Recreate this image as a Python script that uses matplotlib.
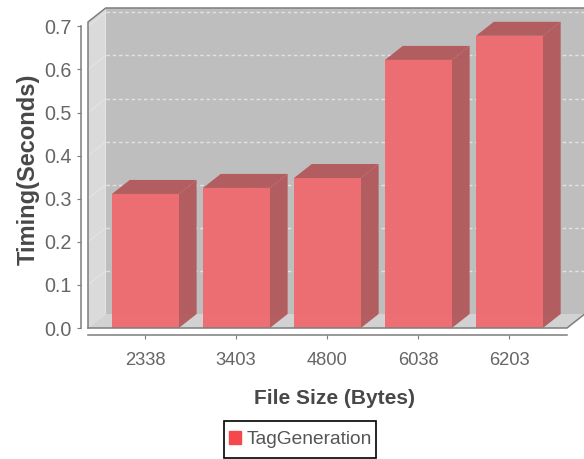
import matplotlib
matplotlib.use("Agg")
import matplotlib.pyplot as plt
from matplotlib.patches import Patch, Polygon, Rectangle

plt.rcParams["font.family"] = ["Liberation Sans", "DejaVu Sans"]

categorias = ["2338", "3403", "4800", "6038", "6203"]
tempos = [0.311, 0.325, 0.348, 0.622, 0.678]
marcas_y = [0.0, 0.1, 0.2, 0.3, 0.4, 0.5, 0.6, 0.7]
serie = "TagGeneration"

LARGURA, ALTURA = 584, 459
largura_barra = 0.735
prof_x = 0.195
prof_y = 0.0325
x_min, x_max = -0.626, 4.637
y_max = 0.71


def poligono(ax, pontos, cor, z, alpha=1.0):
    ax.add_patch(
        Polygon(pontos, closed=True, facecolor=cor, edgecolor="none", zorder=z,
                alpha=alpha, clip_on=False)
    )


fig = plt.figure(figsize=(LARGURA / 100, ALTURA / 100), dpi=100)
ax = fig.add_axes([88 / LARGURA, 1 - 328 / ALTURA, 479 / LARGURA, 306 / ALTURA])
ax.set_xlim(x_min, x_max)
ax.set_ylim(0, y_max)
ax.patch.set_visible(False)

# paredes do grafico 3D
poligono(ax, [(x_min + prof_x, prof_y), (x_max + prof_x, prof_y),
              (x_max + prof_x, y_max + prof_y), (x_min + prof_x, y_max + prof_y)], "#bebebe", 1)
poligono(ax, [(x_min, 0), (x_min + prof_x, prof_y),
              (x_min + prof_x, y_max + prof_y), (x_min, y_max)], "#dadada", 1)
poligono(ax, [(x_min, 0), (x_max, 0), (x_max + prof_x, prof_y), (x_min + prof_x, prof_y)], "#d2d2d2", 1)

for v in marcas_y[1:]:
    ax.plot([x_min + prof_x, x_max + prof_x], [v + prof_y, v + prof_y], color="#e2e2e2",
            lw=1, ls=(0, (2.5, 2)), zorder=2, clip_on=False)
    ax.plot([x_min, x_min + prof_x], [v, v + prof_y], color="#e4e4e4",
            lw=0.8, zorder=2, clip_on=False)

# barras
for i, v in enumerate(tempos):
    esq = i + 0.005 - largura_barra / 2
    dir_ = i + 0.005 + largura_barra / 2
    poligono(ax, [(dir_, 0), (dir_ + prof_x, prof_y), (dir_ + prof_x, v + prof_y), (dir_, v)],
             "#b25a5c", 3, 0.97)
    poligono(ax, [(esq, v), (dir_, v), (dir_ + prof_x, v + prof_y), (esq + prof_x, v + prof_y)],
             "#b25a5c", 3, 0.97)
ax.bar([i + 0.005 for i in range(len(tempos))], tempos, width=largura_barra,
       color="#f06a6e", alpha=0.95, zorder=4)

# contorno
cor_linha = "#7d7d7d"
ax.plot([x_min, x_max, x_max + prof_x], [0, 0, prof_y], color=cor_linha, lw=1.1, zorder=5, clip_on=False)
ax.plot([x_min, x_min, x_min + prof_x, x_max + prof_x], [0, y_max, y_max + prof_y, y_max + prof_y],
        color=cor_linha, lw=1.1, zorder=5, clip_on=False)

for lado in ["top", "right"]:
    ax.spines[lado].set_visible(False)
ax.spines["left"].set_position(("outward", 5))
ax.spines["bottom"].set_position(("outward", 5))
ax.spines["left"].set_bounds(0, 0.7)
ax.spines["left"].set_color(cor_linha)
ax.spines["bottom"].set_color(cor_linha)
ax.spines["left"].set_linewidth(1.1)
ax.spines["bottom"].set_linewidth(1.1)

ax.set_yticks(marcas_y)
ax.set_yticklabels([f"{v:.1f}" for v in marcas_y])
ax.set_xticks(range(len(categorias)))
ax.set_xticklabels(categorias)
ax.tick_params(axis="y", labelsize=14.2, labelcolor="#666666", color=cor_linha, length=3, pad=4)
ax.tick_params(axis="x", labelsize=13.2, labelcolor="#666666", color=cor_linha, length=3, pad=9)

ax.set_xlabel("File Size (Bytes)", fontsize=15, fontweight="bold", color="#484848", va="center")
ax.xaxis.set_label_coords(0.514, -0.23)
ax.set_ylabel("Timing(Seconds)", fontsize=17, fontweight="bold", color="#484848", va="center")
ax.yaxis.set_label_coords(-0.125, 0.52)

# caixa da legenda desenhada a parte, mais baixa e larga que a do legend
fig.add_artist(
    Rectangle((224 / LARGURA, 1 - 458 / ALTURA), 152 / LARGURA, 37 / ALTURA,
              transform=fig.transFigure, facecolor="white", edgecolor="black", lw=1.2)
)
leg = fig.legend(
    handles=[Patch(color="#f5484c", label=serie)],
    loc="center",
    bbox_to_anchor=(300.5 / LARGURA, 1 - 439.5 / ALTURA),
    fontsize=13.8,
    frameon=False,
    handlelength=0.62,
    handleheight=0.67,
    handletextpad=0.3,
    borderpad=0,
    borderaxespad=0,
    labelcolor="#555555",
)

fig.savefig("out.png", dpi=100)
